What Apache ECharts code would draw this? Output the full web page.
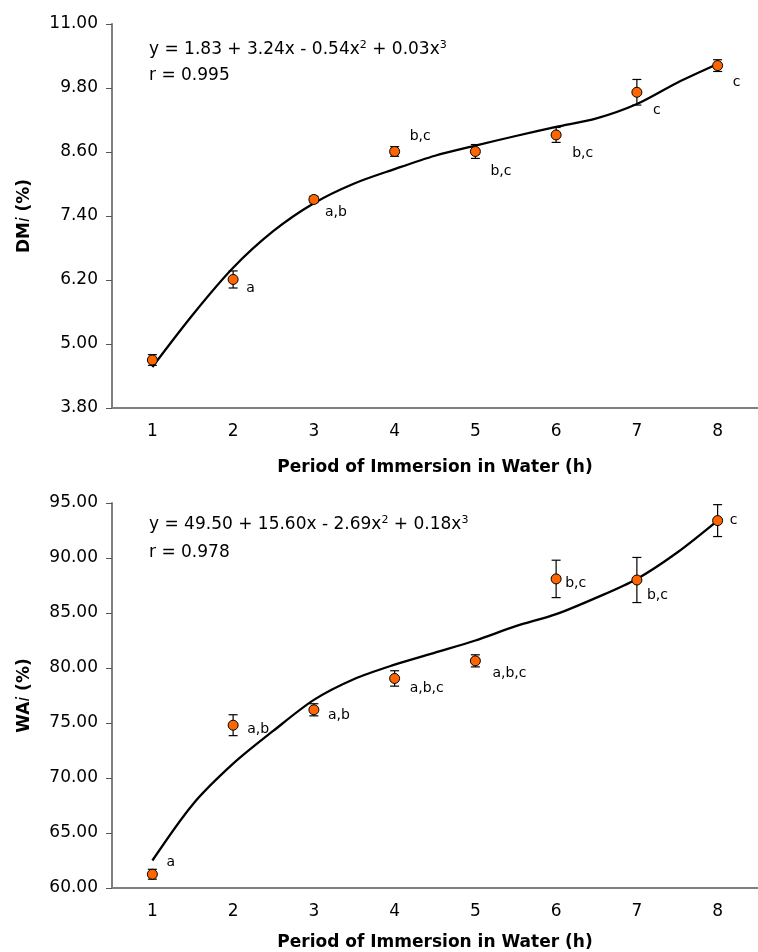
<!DOCTYPE html>
<html>
<head>
<meta charset="utf-8">
<script src="https://cdn.jsdelivr.net/npm/echarts@6/dist/echarts.min.js"></script>
<style>html,body{margin:0;padding:0;background:#fff}#c{width:758px;height:952px}</style>
</head>
<body>
<div id="c"></div>
<script>
// ---- data ----
const categories = [1, 2, 3, 4, 5, 6, 7, 8];
const dmiMean = [4.70, 6.21, 7.71, 8.61, 8.61, 8.92, 9.72, 10.22];
const dmiErr = [0.10, 0.16, 0.06, 0.09, 0.13, 0.14, 0.24, 0.11];
const dmiLetters = ['', 'a', 'a,b', 'b,c', 'b,c', 'b,c', 'c', 'c'];
const waiMean = [61.25, 74.80, 76.20, 79.05, 80.65, 88.10, 88.00, 93.40];
const waiErr = [0.45, 0.95, 0.55, 0.70, 0.55, 1.70, 2.05, 1.45];
const waiLetters = ['a', 'a,b', 'a,b', 'a,b,c', 'a,b,c', 'b,c', 'b,c', 'c'];
// fitted curves
const fitX = [1, 1.5, 2, 2.5, 3, 3.5, 4, 4.5, 5, 5.5, 6, 6.5, 7, 7.5, 8];
const dmiFit = [4.57, 5.55, 6.43, 7.12, 7.64, 8.01, 8.28, 8.53, 8.72, 8.90, 9.07, 9.23, 9.50, 9.90, 10.25];
const waiFit = [62.5, 67.6, 71.3, 74.3, 77.1, 79.0, 80.3, 81.4, 82.5, 83.8, 84.9, 86.4, 88.1, 90.5, 93.4];
const dmiTicks = { min: 3.8, max: 11, interval: 1.2 };
const waiTicks = { min: 60, max: 95, interval: 5 };
const xTitle = 'Period of Immersion in Water (h)';
const dmiEq = ['y = 1.83 + 3.24x - 0.54x', '2', ' + 0.03x', '3'];
const dmiR = 'r = 0.995';
const waiEq = ['y = 49.50 + 15.60x - 2.69x', '2', ' + 0.18x', '3'];
const waiR = 'r = 0.978';

// ---- layout (label offsets from point centre, px) ----
const dmiLabelOffset = [[0, 0], [13, 9], [11, 13], [15, -15], [15, 20], [16, 18], [16, 18], [15, 17]];
const waiLabelOffset = [[14, -12], [14, 4], [14, 6], [15, 10], [17, 13], [9, 4], [10, 15], [12, 0]];

const FONT = 'DejaVu Sans';
const AXIS_COLOR = '#808080';

function catAxis(gi, gap) {
  return {
    type: 'category', gridIndex: gi, data: categories.map(String), boundaryGap: true,
    axisLine: { lineStyle: { color: AXIS_COLOR, width: 2 } },
    axisTick: { length: 6, lineStyle: { color: '#555', width: 1 } },
    axisLabel: { margin: 15, fontSize: 17, fontFamily: FONT, color: '#000', lineHeight: 17 },
    name: xTitle, nameLocation: 'middle', nameGap: gap,
    nameTextStyle: { fontSize: 17, fontWeight: 'bold', fontFamily: FONT, color: '#000', lineHeight: 17 }
  };
}
function hiddenX(gi) {
  return { type: 'value', gridIndex: gi, min: 0.5, max: 8.5, show: false };
}
function valAxis(gi, t, nm) {
  return {
    type: 'value', gridIndex: gi, min: t.min, max: t.max, interval: t.interval,
    splitLine: { show: false },
    axisLine: { show: true, lineStyle: { color: AXIS_COLOR, width: 2 } },
    axisTick: { show: true, length: 6, lineStyle: { color: '#555', width: 1 } },
    axisLabel: { margin: 14, fontSize: 17, fontFamily: FONT, color: '#000', formatter: v => v.toFixed(2) },
    name: '{b|' + nm + '}{i|i}{b| (%)}', nameLocation: 'middle', nameGap: 79, nameRotate: 90,
    nameTextStyle: {
      rich: {
        b: { fontSize: 17, fontWeight: 'bold', fontFamily: FONT, color: '#000' },
        i: { fontSize: 17, fontStyle: 'italic', fontFamily: FONT, color: '#000' }
      }
    }
  };
}
function errSeries(xi, yi, mean, err) {
  return {
    type: 'custom', xAxisIndex: xi, yAxisIndex: yi, z: 3,
    data: categories.map((c, i) => [c, mean[i], err[i]]),
    encode: { x: 0, y: 1 },
    renderItem: function (params, api) {
      const x = api.value(0), y = api.value(1), e = api.value(2);
      const a = api.coord([x, y + e]);
      const b = api.coord([x, y - e]);
      const w = 4.5;
      const st = { stroke: '#000', lineWidth: 1.2 };
      return {
        type: 'group', children: [
          { type: 'line', shape: { x1: a[0], y1: a[1], x2: b[0], y2: b[1] }, style: st },
          { type: 'line', shape: { x1: a[0] - w, y1: a[1], x2: a[0] + w, y2: a[1] }, style: st },
          { type: 'line', shape: { x1: b[0] - w, y1: b[1], x2: b[0] + w, y2: b[1] }, style: st }
        ]
      };
    }
  };
}
function pointSeries(xi, yi, mean, letters, offs) {
  return {
    type: 'scatter', xAxisIndex: xi, yAxisIndex: yi, z: 4,
    symbol: 'circle', symbolSize: 10,
    itemStyle: { color: '#FF6600', borderColor: '#000', borderWidth: 1, opacity: 1 },
    data: categories.map((c, i) => ({
      value: [c, mean[i]],
      label: { offset: offs[i] }
    })),
    label: {
      show: true, position: 'inside', align: 'left', verticalAlign: 'middle',
      fontSize: 14, fontFamily: FONT, color: '#000',
      formatter: p => letters[p.dataIndex]
    },
    emphasis: { disabled: true }
  };
}
function fitSeries(xi, yi, fit) {
  return {
    type: 'line', xAxisIndex: xi, yAxisIndex: yi, z: 2,
    data: fitX.map((x, i) => [x, fit[i]]),
    smooth: 0.3, showSymbol: false, symbol: 'none',
    lineStyle: { color: '#000', width: 2.3 },
    emphasis: { disabled: true }
  };
}
function eqGraphic(left, top1, top2, eq, r) {
  const rich = {
    n: { fontSize: 17, fontFamily: FONT, fill: '#000', lineHeight: 20, verticalAlign: 'middle' },
    s: { fontSize: 11, fontFamily: FONT, fill: '#000', lineHeight: 11, verticalAlign: 'top' }
  };
  return [
    { type: 'text', left: left, top: top1, style: { text: '{n|' + eq[0] + '}{s|' + eq[1] + '}{n|' + eq[2] + '}{s|' + eq[3] + '}', rich: rich } },
    { type: 'text', left: left, top: top2, style: { text: r, fontSize: 17, fontFamily: FONT, fill: '#000' } }
  ];
}

const chart = echarts.init(document.getElementById('c'), null, { renderer: 'canvas' });
chart.setOption({
  animation: false,
  backgroundColor: '#fff',
  grid: [
    { left: 112, top: 24, width: 652, height: 384 },
    { left: 112, top: 503, width: 652, height: 385 }
  ],
  xAxis: [catAxis(0, 51), hiddenX(0), catAxis(1, 46), hiddenX(1)],
  yAxis: [valAxis(0, dmiTicks, 'DM'), valAxis(1, waiTicks, 'WA')],
  series: [
    fitSeries(1, 0, dmiFit), errSeries(1, 0, dmiMean, dmiErr), pointSeries(1, 0, dmiMean, dmiLetters, dmiLabelOffset),
    fitSeries(3, 1, waiFit), errSeries(3, 1, waiMean, waiErr), pointSeries(3, 1, waiMean, waiLetters, waiLabelOffset)
  ],
  graphic: eqGraphic(149, 40, 67, dmiEq, dmiR).concat(eqGraphic(149, 515, 544, waiEq, waiR))
});
</script>
</body>
</html>
